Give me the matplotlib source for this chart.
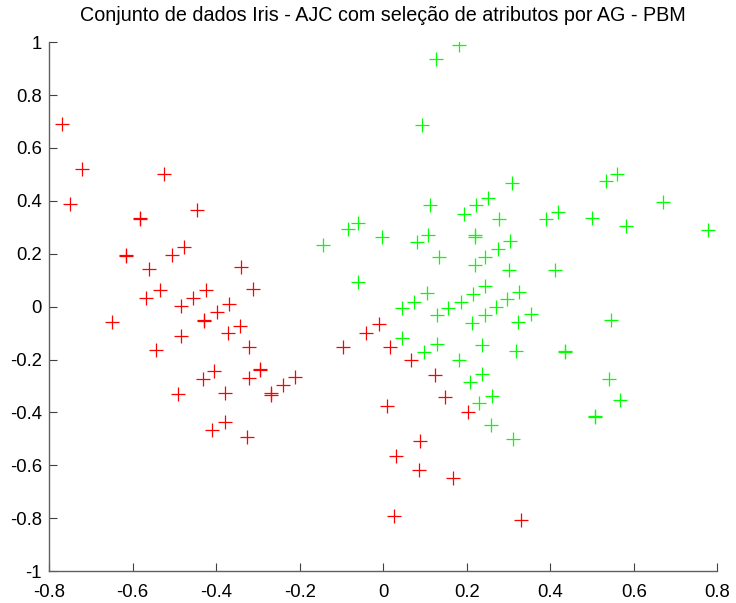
import numpy as np
import matplotlib.pyplot as plt

plt.rcParams['font.family'] = ['Liberation Sans', 'DejaVu Sans']

# grupo 1 (vermelho)
red_x = [-0.770, -0.721, -0.749, -0.525, -0.583, -0.446, -0.616, -0.477, -0.506, -0.561,
         -0.340, -0.312, -0.535, -0.425, -0.567, -0.455, -0.483, -0.370, -0.399, -0.649,
         -0.430, -0.483, -0.371, -0.342, -0.543, -0.321, -0.096, -0.041, -0.405, -0.431,
         -0.294, -0.321, -0.210, -0.240, -0.268, -0.490, -0.378, -0.379, -0.410, -0.327,
         -0.010, 0.016, 0.067, 0.123, 0.149, 0.203, 0.008, 0.089, 0.031, 0.086,
         0.168, 0.026, 0.331, -0.583, -0.616, -0.430, -0.268, -0.294]
red_y = [0.690, 0.522, 0.388, 0.503, 0.336, 0.364, 0.194, 0.225, 0.194, 0.143,
         0.148, 0.065, 0.061, 0.061, 0.031, 0.031, 0.004, 0.009, -0.020, -0.057,
         -0.051, -0.110, -0.101, -0.074, -0.164, -0.154, -0.152, -0.099, -0.244, -0.274,
         -0.237, -0.269, -0.268, -0.297, -0.328, -0.332, -0.328, -0.438, -0.467, -0.492,
         -0.067, -0.152, -0.202, -0.259, -0.343, -0.398, -0.375, -0.509, -0.565, -0.618,
         -0.650, -0.791, -0.806, 0.330, 0.190, -0.055, -0.333, -0.241]

# grupo 2 (verde)
green_x = [-0.144, -0.084, -0.060, -0.060, 0.182, 0.127, 0.093, 0.308, 0.534, 0.559,
           0.671, 0.777, 0.112, 0.252, 0.223, 0.193, 0.278, 0.389, 0.419, 0.500,
           0.581, -0.002, 0.081, 0.107, 0.219, 0.304, 0.133, 0.219, 0.244, 0.275,
           0.301, 0.412, 0.244, 0.216, 0.326, 0.105, 0.074, 0.186, 0.297, 0.046,
           0.156, 0.270, 0.129, 0.244, 0.212, 0.324, 0.353, 0.545, 0.046, 0.128,
           0.098, 0.237, 0.319, 0.435, 0.182, 0.236, 0.209, 0.540, 0.260, 0.230,
           0.567, 0.508, 0.257, 0.312, 0.219, 0.508, 0.435]
green_y = [0.233, 0.292, 0.317, 0.094, 0.991, 0.937, 0.686, 0.469, 0.476, 0.503,
           0.394, 0.289, 0.384, 0.411, 0.383, 0.352, 0.330, 0.330, 0.358, 0.336,
           0.306, 0.264, 0.243, 0.270, 0.270, 0.248, 0.188, 0.158, 0.188, 0.219,
           0.137, 0.137, 0.078, 0.047, 0.054, 0.050, 0.018, 0.018, 0.027, -0.005,
           -0.005, -0.001, -0.032, -0.032, -0.061, -0.057, -0.028, -0.051, -0.120, -0.143,
           -0.173, -0.146, -0.167, -0.167, -0.202, -0.256, -0.284, -0.274, -0.338, -0.366,
           -0.355, -0.414, -0.448, -0.502, 0.265, -0.418, -0.170]

fig = plt.figure(figsize=(7.36, 6.03), dpi=100)
ax = fig.add_axes([0.0666, 0.053, 0.908, 0.877])

ax.plot(red_x, red_y, '+', color='#ff0000', markersize=9.5, markeredgewidth=0.9)
ax.plot(green_x, green_y, '+', color='#00ff00', markersize=9.5, markeredgewidth=0.9)

ax.set_xlim(-0.8, 0.8)
ax.set_ylim(-1, 1)
ax.set_xticks(np.arange(-0.8, 0.81, 0.2))
ax.set_yticks(np.arange(-1, 1.01, 0.2))
ax.set_xticklabels(['-0.8', '-0.6', '-0.4', '-0.2', '0', '0.2', '0.4', '0.6', '0.8'])
ax.set_yticklabels(['-1', '-0.8', '-0.6', '-0.4', '-0.2', '0', '0.2', '0.4', '0.6', '0.8', '1'])

ax.spines['top'].set_visible(False)
ax.spines['right'].set_visible(False)
for s in ['left', 'bottom']:
    ax.spines[s].set_color('#606060')
    ax.spines[s].set_linewidth(1.0)
ax.tick_params(direction='in', length=6, width=0.8, color='#404040', labelsize=13.3)
ax.tick_params(axis='x', pad=9)
ax.tick_params(axis='y', pad=5)

ax.set_title('Conjunto de dados Iris - AJC com seleção de atributos por AG - PBM', fontsize=14.2, pad=15)

fig.savefig('out.png', dpi=100)
